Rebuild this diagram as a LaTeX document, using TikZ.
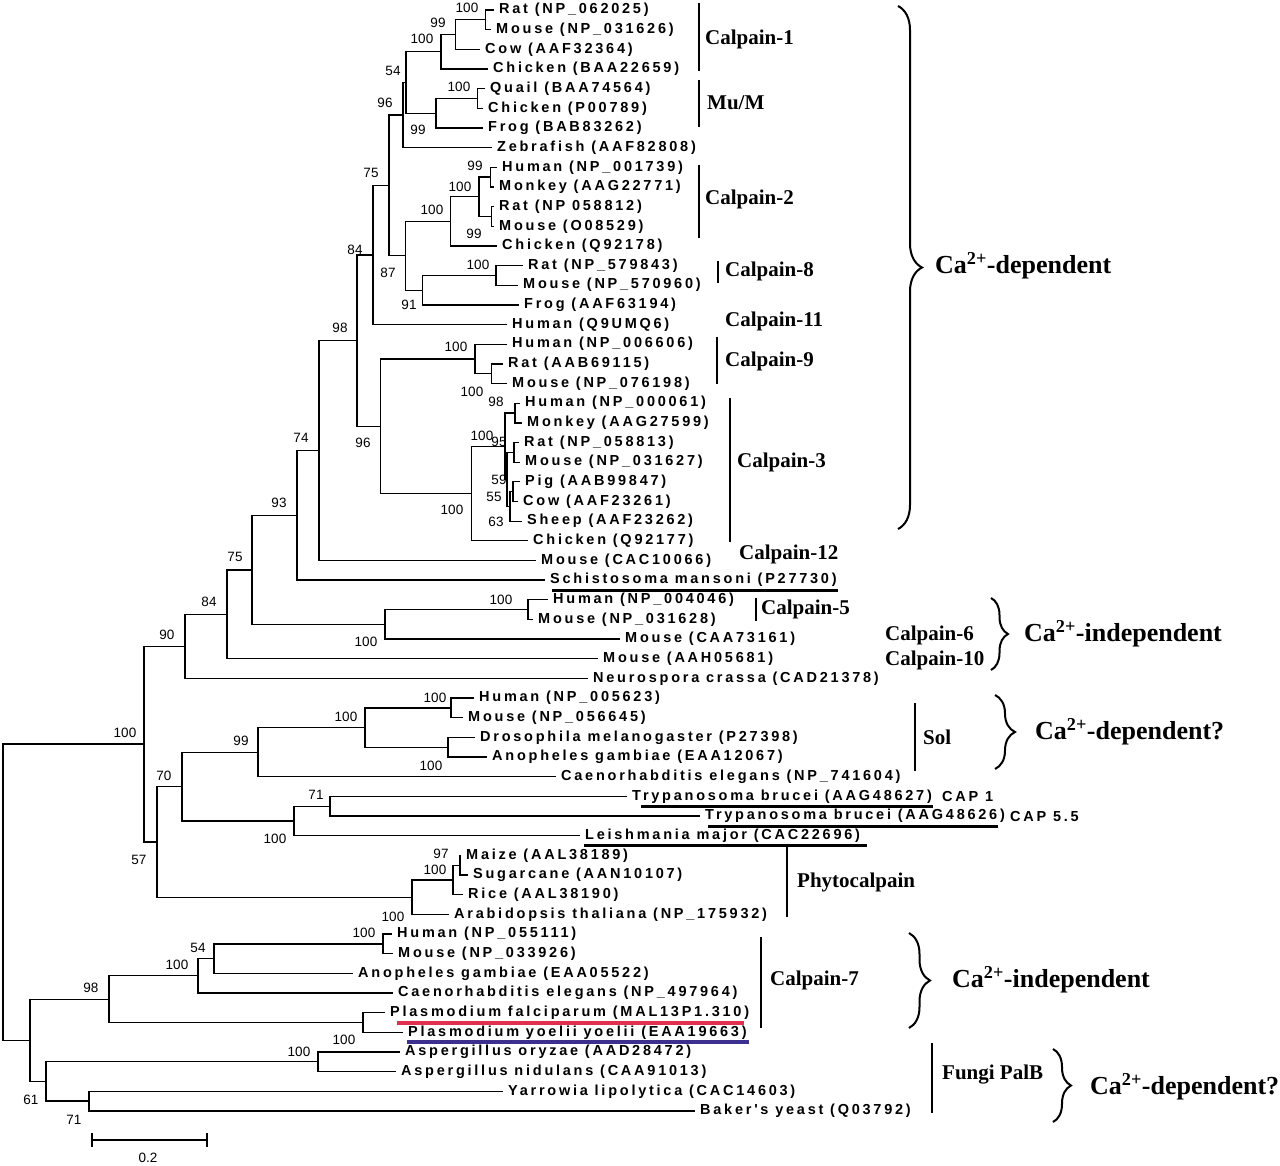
\documentclass[tikz,border=0pt]{standalone}
\usepackage{fontspec}
\setmainfont{Liberation Serif}
\setsansfont{Liberation Sans}
\newfontfamily\leaffont{Liberation Sans}[LetterSpace=19]
\usetikzlibrary{calc,decorations.pathreplacing}

\definecolor{plasred}{HTML}{E0304E}
\definecolor{plasblue}{HTML}{3C2F8E}

% row of leaf i (pixels from the top)
\newcommand\ry[1]{{10+(#1-1)*19.66}}
% internal node: name, x, upper child, lower child
\newcommand\clade[4]{%
  \path let \p1=(#3), \p2=(#4) in coordinate (#1) at (#2pt,{0.5*(\y1+\y2)});
  \draw[branch] (#3) -| (#1) |- (#4);}
\newcommand\calcium[1]{Ca\textsuperscript{2+}-#1}

\tikzset{
  branch/.style={line width=1.3pt},
  leaf/.style={anchor=west, inner xsep=5pt, inner ysep=1pt,
    font=\leaffont\bfseries\fontsize{14.5}{16}\selectfont},
  boot/.style={inner sep=0pt, font=\sffamily\fontsize{13.5}{15}\selectfont},
  grp/.style={anchor=west, inner sep=0pt, font=\bfseries\fontsize{21}{24}\selectfont},
  calab/.style={anchor=west, inner sep=0pt, font=\bfseries\fontsize{26}{30}\selectfont},
  cbar/.style={line width=1.3pt},
  uline/.style={line width=3pt},
  curly/.style={decorate, decoration={brace, amplitude=#1}, line width=2pt},
}

\begin{document}
\begin{tikzpicture}[x=1pt,y=-1pt]
\useasboundingbox[fill=white] (0,0) rectangle (1280,1166);

% leaves
\foreach \tx/\lab [count=\i] in {
  494/Rat (NP\_062025), 491/Mouse (NP\_031626), 480/Cow (AAF32364),
  488/Chicken (BAA22659), 485/Quail (BAA74564), 483/Chicken (P00789),
  483/Frog (BAB83262), 492/Zebrafish (AAF82808), 497/Human (NP\_001739),
  494/Monkey (AAG22771), 494/Rat (NP 058812), 494/Mouse (O08529),
  497/Chicken (Q92178), 523/Rat (NP\_579843), 518/Mouse (NP\_570960),
  519/Frog (AAF63194), 507/Human (Q9UMQ6), 507/Human (NP\_006606),
  503/Rat (AAB69115), 507/Mouse (NP\_076198), 520/Human (NP\_000061),
  522/Monkey (AAG27599), 519/Rat (NP\_058813), 520/Mouse (NP\_031627),
  520/Pig (AAB99847), 518/Cow (AAF23261), 522/Sheep (AAF23262),
  528/Chicken (Q92177), 536/Mouse (CAC10066),
  545/Schistosoma mansoni (P27730), 548/Human (NP\_004046),
  533/Mouse (NP\_031628), 620/Mouse (CAA73161), 598/Mouse (AAH05681),
  588/Neurospora crassa (CAD21378), 474/Human (NP\_005623),
  463/Mouse (NP\_056645), 475/Drosophila melanogaster (P27398),
  487/Anopheles gambiae (EAA12067), 556/Caenorhabditis elegans (NP\_741604),
  627/Trypanosoma brucei (AAG48627), 700/Trypanosoma brucei (AAG48626),
  580/Leishmania major (CAC22696), 461/Maize (AAL38189),
  468/Sugarcane (AAN10107), 463/Rice (AAL38190),
  449/Arabidopsis thaliana (NP\_175932), 392/Human (NP\_055111),
  393/Mouse (NP\_033926), 353/Anopheles gambiae (EAA05522),
  393/Caenorhabditis elegans (NP\_497964),
  385/Plasmodium falciparum (MAL13P1.310),
  403/Plasmodium yoelii yoelii (EAA19663),
  400/Aspergillus oryzae (AAD28472), 396/Aspergillus nidulans (CAA91013),
  503/Yarrowia lipolytica (CAC14603), 695/Baker's yeast (Q03792)}
  \node[leaf] (l\i) at (\tx,\ry{\i}) {\lab};

% tree
\clade{n1}{485.7}{l1.west}{l2.west}
\clade{n2}{455.7}{n1}{l3.west}
\clade{n3}{441}{n2}{l4.west}
\clade{n4}{477.7}{l5.west}{l6.west}
\clade{n5}{436}{n4}{l7.west}
\clade{n6}{406}{n3}{n5}
\clade{n7}{403}{n6}{l8.west}
\clade{n8}{490.7}{l9.west}{l10.west}
\clade{n9}{491.7}{l11.west}{l12.west}
\clade{n10}{479}{n8}{n9}
\clade{n11}{450.7}{n10}{l13.west}
\clade{n12}{496}{l14.west}{l15.west}
\clade{n13}{422.7}{n12}{l16.west}
\clade{n14}{405.7}{n11}{n13}
\clade{n15}{389}{n7}{n14}
\clade{n16}{373}{n15}{l17.west}
\clade{n17}{491.7}{l19.west}{l20.west}
\clade{n18}{475}{l18.west}{n17}
\clade{n19}{515}{l21.west}{l22.west}
\clade{n20}{514}{l23.west}{l24.west}
\clade{n21}{513}{l25.west}{l26.west}
\clade{n22}{510}{n21}{l27.west}
\clade{n23}{507}{n20}{n22}
\clade{n24}{505}{n19}{n23}
\clade{n25}{471.7}{n24}{l28.west}
\clade{n26}{380.7}{n18}{n25}
\clade{n27}{357}{n16}{n26}
\clade{n28}{319}{n27}{l29.west}
\clade{n29}{297}{n28}{l30.west}
\clade{n30}{528}{l31.west}{l32.west}
\clade{n31}{385}{n30}{l33.west}
\clade{n32}{252}{n29}{n31}
\clade{n33}{227}{n32}{l34.west}
\clade{n34}{185}{n33}{l35.west}
\clade{n35}{451}{l36.west}{l37.west}
\clade{n36}{448}{l38.west}{l39.west}
\clade{n37}{365}{n35}{n36}
\clade{n38}{258}{n37}{l40.west}
\clade{n39}{330}{l41.west}{l42.west}
\clade{n40}{294}{n39}{l43.west}
\clade{n41}{182}{n38}{n40}
\clade{n42}{460}{l44.west}{l45.west}
\clade{n43}{453}{n42}{l46.west}
\clade{n44}{412}{n43}{l47.west}
\clade{n45}{157}{n41}{n44}
\clade{n46}{144}{n34}{n45}
\clade{n47}{383}{l48.west}{l49.west}
\clade{n48}{214}{n47}{l50.west}
\clade{n49}{198}{n48}{l51.west}
\clade{n50}{363}{l52.west}{l53.west}
\clade{n51}{109}{n49}{n50}
\clade{n52}{318}{l54.west}{l55.west}
\clade{n53}{89}{l56.west}{l57.west}
\clade{n54}{46}{n52}{n53}
\clade{n55}{30}{n51}{n54}
\clade{root}{3}{n46}{n55}

% bootstrap values
\foreach \bx/\by/\bv [count=\j] in {
  467/8/100, 438/23/99, 422/39/100, 393/71/54, 459/87/100, 385/103/96,
  418/130/99, 371/173/75, 475/166/99, 460/187/100, 432/210/100, 474/234/99,
  355/250/84, 478/265/100, 388/273/87, 409/305/91, 340/328/98, 456/347/100,
  472/392/100, 496/402/98, 482/436/100, 499/442/95, 363/443/96, 301/438/74,
  499/480/59, 494/497/55, 452/510/100, 496/522/63, 279/503/93, 235/557/75,
  501/600/100, 209/602/84, 167/635/90, 366/642/100, 435/698/100,
  346/717/100, 125/733/100, 241/741/99, 431/766/100, 164/776/70,
  316/795/71, 275/839/100, 441/854/97, 139/860/57, 435/870/100,
  393/917/100, 364/933/100, 198/948/54, 177/965/100, 91/988/98,
  344/1040/100, 299/1052/100, 31/1100/61, 74/1120/71}
  \node[boot] (b\j) at (\bx,\by) {\bv};

% underlined sequences
\draw[uline] ([xshift=7pt,yshift=-2pt]l30.south west) -- ([xshift=-4pt,yshift=-2pt]l30.south east);
\draw[uline] ([xshift=14pt,yshift=-2pt]l41.south west) -- ([xshift=-4pt,yshift=-2pt]l41.south east);
\draw[uline] ([xshift=8pt,yshift=-2pt]l42.south west) -- ([xshift=-12pt,yshift=-2pt]l42.south east);
\draw[uline] ([xshift=4pt,yshift=-2pt]l43.south west) -- ([xshift=2pt,yshift=-2pt]l43.south east);
\draw[uline,plasred,line width=4pt] ([xshift=12pt,yshift=-2pt]l52.south west) -- ([xshift=-10pt,yshift=-2pt]l52.south east);
\draw[uline,plasblue,line width=4pt] ([xshift=4pt,yshift=-2pt]l53.south west) -- ([xshift=-3pt,yshift=-2pt]l53.south east);
\node[leaf] (cap1) at (937,\ry{41}) {CAP 1};
\node[leaf] (cap2) at (1005,\ry{42}) {CAP 5.5};

% families
\draw[cbar] (699,3) -- (699,71);      \node[grp] (g1) at (705,39) {Calpain-1};
\draw[cbar] (699,80) -- (699,127);    \node[grp] (g2) at (707,103) {Mu/M};
\draw[cbar] (699,165) -- (699,238);   \node[grp] (g3) at (705,199) {Calpain-2};
\draw[cbar] (718,261) -- (718,283);   \node[grp] (g4) at (725,271) {Calpain-8};
                                      \node[grp] (g5) at (725,321) {Calpain-11};
\draw[cbar] (717,337) -- (717,384);   \node[grp] (g6) at (725,361) {Calpain-9};
\draw[cbar] (730,398) -- (730,542);   \node[grp] (g7) at (737,462) {Calpain-3};
                                      \node[grp] (g8) at (739,554) {Calpain-12};
\draw[cbar] (756,598) -- (756,621);   \node[grp] (g9) at (761,609) {Calpain-5};
                                      \node[grp] (g10) at (885,635) {Calpain-6};
                                      \node[grp] (g11) at (885,660) {Calpain-10};
\draw[cbar] (915,703) -- (915,771);   \node[grp] (g12) at (923,737) {Sol};
\draw[cbar] (787,847) -- (787,917);   \node[grp] (g13) at (797,882) {Phytocalpain};
\draw[cbar] (761,937) -- (761,1028);  \node[grp] (g14) at (770,980) {Calpain-7};
\draw[cbar] (932,1043) -- (932,1113); \node[grp] (g15) at (942,1075) {Fungi PalB};

% calcium dependence
\draw[curly=24pt] (898,6) -- (898,529);
\node[calab] (ca1) at (935,266) {\calcium{dependent}};
\draw[curly=17pt] (991,598) -- (991,670);
\node[calab] (ca2) at (1024,634) {\calcium{independent}};
\draw[curly=20pt] (995,695) -- (995,769);
\node[calab] (ca3) at (1035,732) {\calcium{dependent?}};
\draw[curly=21pt] (909,933) -- (909,1028);
\node[calab] (ca4) at (952,980) {\calcium{independent}};
\draw[curly=18pt] (1053,1049) -- (1053,1122);
\node[calab] (ca5) at (1090,1087) {\calcium{dependent?}};

% scale
\coordinate (sbl) at (92,1140);
\coordinate (sbr) at (207,1140);
\draw[branch] (sbl) -- (sbr);
\draw[branch] ([yshift=7pt]sbl) -- ([yshift=-7pt]sbl);
\draw[branch] ([yshift=7pt]sbr) -- ([yshift=-7pt]sbr);
\node[boot] (sblab) at (148,1158) {0.2};
\end{tikzpicture}
\end{document}
